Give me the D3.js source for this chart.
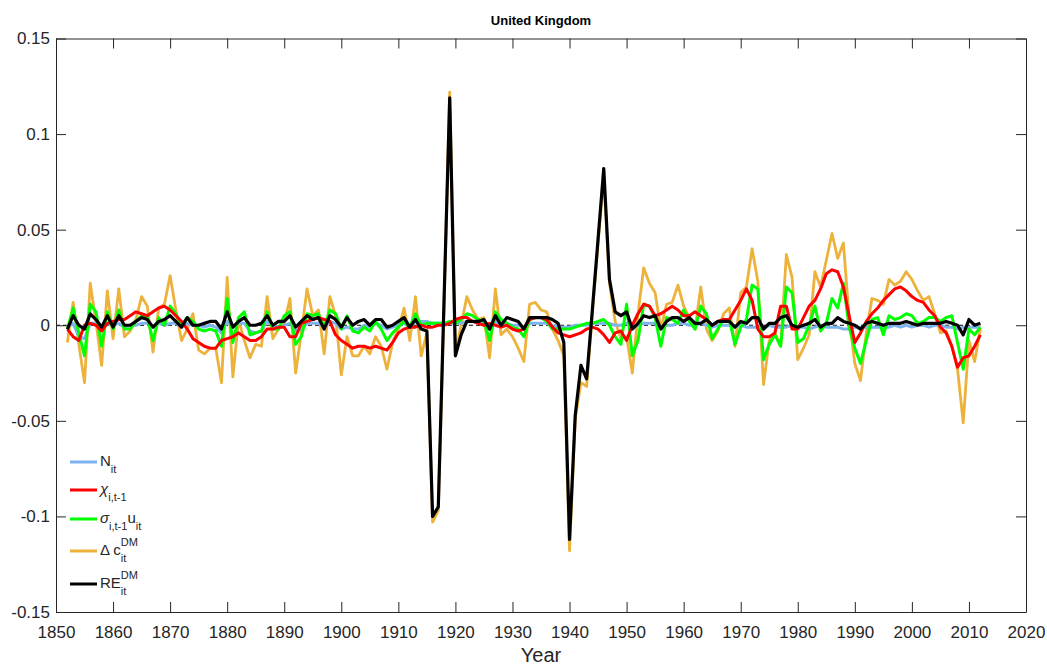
<!DOCTYPE html>
<html>
<head>
<meta charset="utf-8">
<script src="https://cdn.jsdelivr.net/npm/d3@7"></script>
<style>
  body { margin: 0; background: #fff; }
  svg { font-family: Arial, "Liberation Sans", Helvetica, sans-serif; }
</style>
</head>
<body>
<svg id="chart"></svg>
<script>
// Chart dimensions
const width = 1047;
const height = 665;
const margin = { top: 38.5, right: 21, bottom: 53, left: 56 };

// Data (1852-2012)
const firstYear = 1852;

const nIt = [
  -0.001, 0.001, -0.006, -0.007, 0.001, 0.001, -0.001, 0.001, 0.000, 0.001,
  -0.001, 0.000, 0.000, 0.001, 0.001, -0.001, 0.001, 0.000, 0.001, 0.001,
  -0.001, 0.001, 0.000, 0.000, -0.001, 0.000, -0.001, -0.004, 0.002, -0.001,
  0.001, 0.001, -0.003, -0.004, -0.003, 0.002, 0.000, -0.001, 0.000, 0.001,
  -0.003, -0.002, 0.001, 0.001, 0.001, -0.001, 0.002, 0.001, -0.002, -0.001,
  -0.002, -0.002, 0.000, -0.001, 0.001, 0.000, -0.002, -0.001, 0.000, 0.001,
  -0.001, 0.002, 0.002, 0.002, 0.001, 0.001, 0.001, 0.001, 0.001, 0.001,
  0.002, 0.002, 0.001, 0.001, -0.002, 0.002, 0.000, 0.001, 0.000, 0.000,
  -0.001, 0.001, 0.001, 0.001, 0.001, 0.000, -0.001, -0.001, -0.001, 0.000,
  0.000, 0.000, 0.001, 0.001, 0.001, 0.001, 0.000, 0.000, 0.001, -0.001,
  0.000, 0.001, 0.001, 0.001, -0.001, 0.000, 0.000, 0.001, 0.001, 0.000,
  0.000, 0.001, 0.000, -0.001, 0.000, 0.000, 0.000, -0.001, 0.000, -0.001,
  -0.001, -0.001, -0.002, 0.000, -0.001, -0.001, -0.001, 0.000, -0.001, -0.001,
  -0.002, -0.001, 0.000, -0.001, -0.001, -0.001, -0.002, -0.002, -0.001, -0.001,
  -0.001, -0.001, -0.001, -0.001, -0.001, 0.000, -0.001, 0.000, -0.001, 0.000,
  0.000, -0.001, 0.000, 0.000, -0.001, -0.001, -0.002, -0.001, -0.001, -0.001,
  -0.001
];

const chi = [
  -0.002, -0.006, -0.008, 0.000, 0.001, 0.000, -0.003, 0.001, 0.002, 0.003,
  0.003, 0.005, 0.007, 0.006, 0.005, 0.007, 0.009, 0.010, 0.008, 0.005,
  0.002, -0.002, -0.007, -0.009, -0.011, -0.012, -0.012, -0.008, -0.007, -0.006,
  -0.004, -0.006, -0.008, -0.008, -0.006, -0.002, -0.002, -0.001, -0.001, -0.006,
  -0.006, 0.001, 0.002, 0.003, 0.004, 0.003, 0.002, -0.005, -0.008, -0.010,
  -0.012, -0.011, -0.011, -0.012, -0.011, -0.012, -0.013, -0.009, -0.004, -0.002,
  -0.001, -0.001, 0.000, -0.001, -0.001, 0.000, 0.000, 0.001, 0.003, 0.004,
  0.004, 0.002, 0.001, 0.000, 0.001, 0.000, -0.001, 0.000, -0.002, -0.003,
  -0.002, 0.003, 0.004, 0.004, 0.003, -0.001, -0.004, -0.005, -0.006, -0.005,
  -0.004, -0.002, -0.001, -0.002, -0.005, -0.009, -0.004, -0.003, -0.008, 0.000,
  0.006, 0.011, 0.010, 0.005, 0.006, 0.008, 0.010, 0.008, 0.005, 0.005,
  0.007, 0.005, 0.003, 0.000, 0.002, 0.003, 0.003, 0.008, 0.013, 0.019,
  0.013, -0.002, -0.006, -0.006, -0.004, 0.010, 0.010, -0.002, -0.002, 0.004,
  0.010, 0.013, 0.019, 0.027, 0.029, 0.028, 0.020, 0.005, -0.009, -0.004,
  0.002, 0.006, 0.009, 0.013, 0.016, 0.019, 0.020, 0.018, 0.015, 0.013,
  0.012, 0.008, 0.005, -0.001, -0.004, -0.011, -0.022, -0.017, -0.016, -0.011,
  -0.005
];

const sigmaU = [
  -0.002, 0.009, -0.004, -0.016, 0.011, 0.007, -0.011, 0.007, -0.002, 0.008,
  -0.002, -0.002, 0.002, 0.005, 0.004, -0.008, 0.004, 0.000, 0.010, 0.006,
  0.000, 0.004, 0.002, -0.002, -0.003, -0.002, -0.003, -0.011, 0.014, -0.009,
  0.004, 0.007, -0.005, -0.004, -0.003, 0.007, -0.002, -0.002, 0.005, 0.007,
  -0.010, -0.006, 0.006, 0.005, 0.006, -0.001, 0.008, 0.006, -0.002, 0.005,
  -0.003, -0.004, -0.001, -0.003, 0.002, -0.002, -0.008, -0.004, -0.001, 0.002,
  -0.001, 0.006, 0.000, 0.001, 0.001, 0.001, 0.001, 0.002, 0.001, 0.003,
  0.006, 0.005, 0.003, 0.002, -0.008, 0.007, 0.003, 0.001, -0.001, -0.002,
  -0.006, 0.003, 0.004, 0.004, 0.002, -0.002, -0.002, -0.002, -0.002, -0.001,
  0.000, 0.001, 0.001, 0.002, 0.003, 0.000, -0.006, -0.010, 0.011, -0.016,
  -0.008, 0.011, 0.010, 0.004, -0.011, 0.004, 0.003, 0.001, 0.008, 0.002,
  -0.002, 0.010, 0.006, -0.007, -0.002, 0.003, 0.003, -0.010, -0.001, 0.003,
  0.021, 0.019, -0.018, -0.010, -0.005, -0.011, 0.020, 0.017, -0.009, -0.007,
  0.000, 0.010, -0.003, 0.001, 0.014, 0.009, 0.022, -0.001, -0.012, -0.020,
  -0.008, 0.003, 0.004, -0.005, 0.005, 0.003, 0.004, 0.006, 0.005, 0.001,
  0.002, 0.004, 0.004, 0.002, 0.004, 0.005, -0.009, -0.023, -0.002, -0.005,
  -0.001
];

const deltaC = [
  -0.009, 0.012, -0.010, -0.030, 0.022, 0.002, -0.021, 0.018, -0.007, 0.019,
  -0.006, -0.003, 0.003, 0.015, 0.010, -0.014, 0.009, 0.011, 0.026, 0.008,
  -0.008, -0.002, 0.006, -0.013, -0.015, -0.012, -0.012, -0.030, 0.025, -0.027,
  0.003, -0.008, -0.017, -0.010, -0.011, 0.015, -0.007, -0.002, 0.001, 0.014,
  -0.025, -0.004, 0.019, 0.005, 0.008, -0.015, 0.015, 0.005, -0.026, -0.006,
  -0.016, -0.016, -0.011, -0.015, -0.006, -0.011, -0.023, -0.009, -0.002, 0.009,
  -0.008, 0.015, -0.016, -0.004, -0.103, -0.097, 0.010, 0.122, -0.015, 0.000,
  0.015, 0.008, 0.003, 0.004, -0.017, 0.019, -0.005, -0.002, -0.006, -0.012,
  -0.019, 0.011, 0.012, 0.008, 0.007, -0.002, -0.008, -0.016, -0.118, -0.049,
  -0.030, -0.032, 0.006, 0.043, 0.078, 0.022, 0.002, -0.007, -0.006, -0.025,
  0.006, 0.030, 0.022, 0.017, -0.002, 0.011, 0.012, 0.021, 0.010, 0.004,
  -0.002, 0.020, -0.002, -0.008, -0.003, 0.006, 0.009, -0.011, 0.017, 0.020,
  0.040, 0.023, -0.031, -0.008, -0.004, -0.011, 0.037, 0.025, -0.018, -0.012,
  -0.005, 0.028, 0.020, 0.034, 0.048, 0.035, 0.043, 0.004, -0.020, -0.029,
  -0.004, 0.014, 0.013, 0.011, 0.024, 0.021, 0.023, 0.028, 0.024, 0.018,
  0.013, 0.015, 0.006, -0.004, -0.003, -0.011, -0.023, -0.051, -0.008, -0.019,
  -0.002
];

const reDM = [
  -0.002, 0.005, 0.000, -0.002, 0.006, 0.003, -0.001, 0.005, -0.001, 0.005,
  0.000, 0.000, 0.002, 0.004, 0.003, -0.001, 0.002, 0.003, 0.005, 0.002,
  -0.001, 0.004, 0.000, 0.000, 0.001, 0.002, 0.002, -0.002, 0.007, -0.001,
  0.002, 0.004, 0.000, 0.000, 0.001, 0.005, 0.000, 0.002, 0.002, 0.005,
  -0.001, 0.002, 0.005, 0.003, 0.004, -0.002, 0.005, 0.003, -0.001, 0.004,
  0.000, 0.002, 0.003, 0.000, 0.003, 0.003, -0.001, 0.000, 0.002, 0.004,
  -0.001, 0.003, -0.002, -0.003, -0.100, -0.095, 0.012, 0.119, -0.016, -0.005,
  0.002, 0.002, 0.002, 0.003, -0.002, 0.005, 0.000, 0.004, 0.003, 0.002,
  -0.002, 0.004, 0.004, 0.004, 0.004, 0.003, 0.001, -0.009, -0.112, -0.047,
  -0.021, -0.028, 0.008, 0.045, 0.082, 0.024, 0.007, 0.005, 0.007, -0.002,
  0.001, 0.005, 0.004, 0.005, -0.002, 0.002, 0.004, 0.004, 0.002, 0.004,
  0.001, 0.001, 0.003, 0.000, 0.002, 0.002, 0.002, -0.001, 0.002, 0.001,
  0.004, 0.004, -0.002, 0.001, 0.001, 0.004, 0.005, 0.000, -0.001, 0.000,
  0.001, 0.003, -0.001, 0.001, 0.001, 0.004, 0.002, 0.001, 0.000, -0.002,
  0.001, 0.002, 0.001, 0.000, 0.001, 0.001, 0.001, 0.002, 0.001, 0.000,
  0.001, 0.001, 0.001, 0.001, 0.002, 0.001, 0.000, -0.005, 0.003, 0.000,
  0.001
];

const years = nIt.map((d, i) => firstYear + i);
const xTicks = d3.range(1850, 2021, 10);
const yTicks = [-0.15, -0.1, -0.05, 0, 0.05, 0.1, 0.15];

// Series in plot order
const series = [
  { key: "dc", values: deltaC, color: "#edb23c", width: 2.8 },
  { key: "n", values: nIt, color: "#7db3ee", width: 3 },
  { key: "su", values: sigmaU, color: "#00ff00", width: 3 },
  { key: "chi", values: chi, color: "#ff0000", width: 3 },
  { key: "re", values: reDM, color: "#000000", width: 3.2 }
];

// Create SVG
const svg = d3.select("#chart")
  .attr("width", width)
  .attr("height", height);

const x = d3.scaleLinear()
  .domain([1850, 2020])
  .range([margin.left, width - margin.right]);

const y = d3.scaleLinear()
  .domain([-0.15, 0.15])
  .range([height - margin.bottom, margin.top]);

const axisColor = "#262626";

// Zero line (dashed)
svg.append("line")
  .attr("x1", x(1850))
  .attr("x2", x(2012))
  .attr("y1", y(0))
  .attr("y2", y(0))
  .attr("stroke", "#000")
  .attr("stroke-width", 1)
  .attr("stroke-dasharray", "4,3");

// Lines
const line = d3.line()
  .x((d, i) => x(years[i]))
  .y(d => y(d));

svg.selectAll(".series")
  .data(series)
  .enter()
  .append("path")
  .attr("class", "series")
  .attr("d", d => line(d.values))
  .attr("fill", "none")
  .attr("stroke", d => d.color)
  .attr("stroke-width", d => d.width)
  .attr("stroke-linejoin", "round");

// Axes (ticks inside, box around)
const tickLen = 10;
const fmtY = d => d === 0 ? "0" : String(+d.toFixed(2));

const xAxis = svg.append("g")
  .attr("transform", `translate(0,${y(-0.15)})`)
  .call(d3.axisBottom(x).tickValues(xTicks).tickFormat(d3.format("d"))
    .tickSizeInner(-tickLen).tickSizeOuter(0).tickPadding(14));

const yAxis = svg.append("g")
  .attr("transform", `translate(${x(1850)},0)`)
  .call(d3.axisLeft(y).tickValues(yTicks).tickFormat(fmtY)
    .tickSizeInner(-tickLen).tickSizeOuter(0).tickPadding(6));

svg.append("g")
  .attr("transform", `translate(0,${y(0.15)})`)
  .call(d3.axisTop(x).tickValues(xTicks).tickFormat("")
    .tickSizeInner(-tickLen).tickSizeOuter(0));

svg.append("g")
  .attr("transform", `translate(${x(2020)},0)`)
  .call(d3.axisRight(y).tickValues(yTicks).tickFormat("")
    .tickSizeInner(-tickLen).tickSizeOuter(0));

svg.selectAll(".domain, .tick line")
  .attr("stroke", axisColor)
  .attr("stroke-width", 1);

svg.selectAll(".tick text")
  .attr("fill", axisColor)
  .style("font-size", "17px");

// Title and axis label
svg.append("text")
  .attr("x", (x(1850) + x(2020)) / 2)
  .attr("y", 25)
  .attr("text-anchor", "middle")
  .style("font-size", "13px")
  .style("font-weight", "bold")
  .attr("fill", "#000")
  .text("United Kingdom");

svg.append("text")
  .attr("x", (x(1850) + x(2020)) / 2)
  .attr("y", 662)
  .attr("text-anchor", "middle")
  .style("font-size", "20px")
  .attr("fill", axisColor)
  .text("Year");

// Legend
const legendItems = [
  { color: "#7db3ee", y: 462, parts: [{ t: "N" }, { t: "it", sub: true }] },
  { color: "#ff0000", y: 490, parts: [{ t: "\u03C7", it: true }, { t: "i,t-1", sub: true }] },
  { color: "#00ff00", y: 519, parts: [{ t: "\u03C3", it: true }, { t: "i,t-1", sub: true }, { t: "u" }, { t: "it", sub: true }] },
  { color: "#edb23c", y: 551, parts: [{ t: "\u0394 c" }, { t: "DM", sup: true }, { t: "it", sub: true, stack: true }] },
  { color: "#000000", y: 584, parts: [{ t: "RE" }, { t: "DM", sup: true }, { t: "it", sub: true, stack: true }] }
];

const legend = svg.append("g").attr("class", "legend");

legendItems.forEach(item => {
  legend.append("line")
    .attr("x1", 70).attr("x2", 97)
    .attr("y1", item.y).attr("y2", item.y)
    .attr("stroke", item.color)
    .attr("stroke-width", 3);

  let cx = 100;
  let lastStart = cx;
  const base = item.y + 4;
  item.parts.forEach(p => {
    const small = p.sub || p.sup;
    const px = p.stack ? lastStart : cx;
    const t = legend.append("text")
      .attr("x", px)
      .attr("y", p.sub ? base + 7 : p.sup ? base - 9 : base)
      .style("font-size", small ? "11px" : "15px")
      .style("font-style", p.it ? "italic" : "normal")
      .attr("fill", axisColor)
      .text(p.t);
    const w = t.node().getComputedTextLength();
    if (p.stack) {
      cx = Math.max(cx, px + w);
    } else {
      lastStart = px;
      cx = px + w;
    }
  });
});
</script>
</body>
</html>
